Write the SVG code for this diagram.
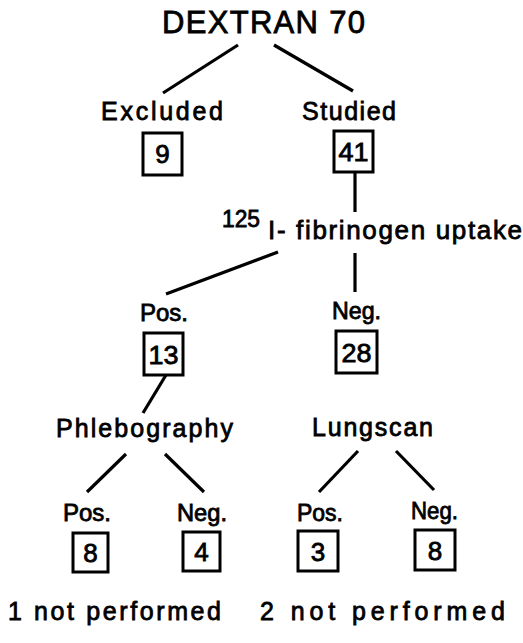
<svg xmlns="http://www.w3.org/2000/svg" width="523" height="643" viewBox="0 0 523 643">
<style>
text{font-family:"Liberation Sans","DejaVu Sans",sans-serif;fill:#000;stroke:#000;stroke-width:0.8;}
.lbl{font-size:25px;}
.pn{font-size:24px;}
.num{font-size:26px;text-anchor:middle;}
.box{fill:#fff;stroke:#000;stroke-width:3;}
.conn line{stroke:#000;stroke-width:3.2;stroke-linecap:butt;}
</style>
<rect width="523" height="643" fill="#fff"/>
<g class="conn" id="connectors">
<line x1="238" y1="45" x2="163" y2="93"/>
<line x1="274" y1="45" x2="353" y2="91"/>
<line x1="355" y1="172" x2="355" y2="212"/>
<line x1="278" y1="252" x2="166" y2="294"/>
<line x1="355" y1="253" x2="355" y2="292"/>
<line x1="166" y1="375" x2="143" y2="413"/>
<line x1="126" y1="454" x2="87" y2="492"/>
<line x1="165" y1="454" x2="204" y2="492"/>
<line x1="358" y1="451" x2="319" y2="492"/>
<line x1="396" y1="451" x2="434" y2="490"/>
</g>
<g id="dextran"><text x="162" y="33" font-size="31" textLength="203" lengthAdjust="spacing">DEXTRAN 70</text></g>
<g id="excluded">
<text class="lbl" x="101" y="120" textLength="122" lengthAdjust="spacing">Excluded</text>
<rect class="box" x="143" y="133" width="39" height="42"/>
<text class="num" x="162.5" y="163">9</text>
</g>
<g id="studied">
<text class="lbl" x="302" y="120" textLength="94" lengthAdjust="spacing">Studied</text>
<rect class="box" x="334" y="131" width="39" height="41"/>
<text class="num" x="353.5" y="161" textLength="30" lengthAdjust="spacingAndGlyphs">41</text>
</g>
<g id="fibrinogen">
<text x="222" y="227" font-size="24" textLength="38" lengthAdjust="spacingAndGlyphs">125</text>
<text x="268" y="239" font-size="26" textLength="254" lengthAdjust="spacing">I- fibrinogen uptake</text>
</g>
<g id="fib-pos">
<text class="pn" x="140" y="321" textLength="48" lengthAdjust="spacing">Pos.</text>
<rect class="box" x="144" y="333" width="39" height="42"/>
<text class="num" x="163.5" y="364" textLength="30" lengthAdjust="spacingAndGlyphs">13</text>
</g>
<g id="fib-neg">
<text class="pn" x="332" y="319" textLength="49" lengthAdjust="spacingAndGlyphs">Neg.</text>
<rect class="box" x="336" y="331" width="41" height="42"/>
<text class="num" x="356.5" y="362" textLength="30" lengthAdjust="spacingAndGlyphs">28</text>
</g>
<g id="phlebography"><text class="lbl" x="56" y="437" textLength="177" lengthAdjust="spacing">Phlebography</text></g>
<g id="lungscan"><text class="lbl" x="312" y="436" textLength="121" lengthAdjust="spacing">Lungscan</text></g>
<g id="phleb-pos">
<text class="pn" x="63" y="521" textLength="48" lengthAdjust="spacing">Pos.</text>
<rect class="box" x="73" y="533" width="35" height="39"/>
<text class="num" x="90.5" y="562" font-size="28">8</text>
</g>
<g id="phleb-neg">
<text class="pn" x="177" y="521" textLength="50" lengthAdjust="spacingAndGlyphs">Neg.</text>
<rect class="box" x="183" y="532" width="37" height="39"/>
<text class="num" x="201.5" y="561" font-size="28">4</text>
</g>
<g id="lung-pos">
<text class="pn" x="297" y="521" textLength="46" lengthAdjust="spacingAndGlyphs">Pos.</text>
<rect class="box" x="298" y="531" width="40" height="40"/>
<text class="num" x="318" y="561" font-size="28">3</text>
</g>
<g id="lung-neg">
<text class="pn" x="411" y="519" textLength="47" lengthAdjust="spacingAndGlyphs">Neg.</text>
<rect class="box" x="415" y="530" width="40" height="40"/>
<text class="num" x="435" y="560" font-size="28">8</text>
</g>
<g id="note1"><text class="lbl" x="8" y="620" textLength="213" lengthAdjust="spacing">1 not performed</text></g>
<g id="note2"><text class="lbl" x="260" y="620" textLength="245" lengthAdjust="spacing">2 not performed</text></g>
</svg>
